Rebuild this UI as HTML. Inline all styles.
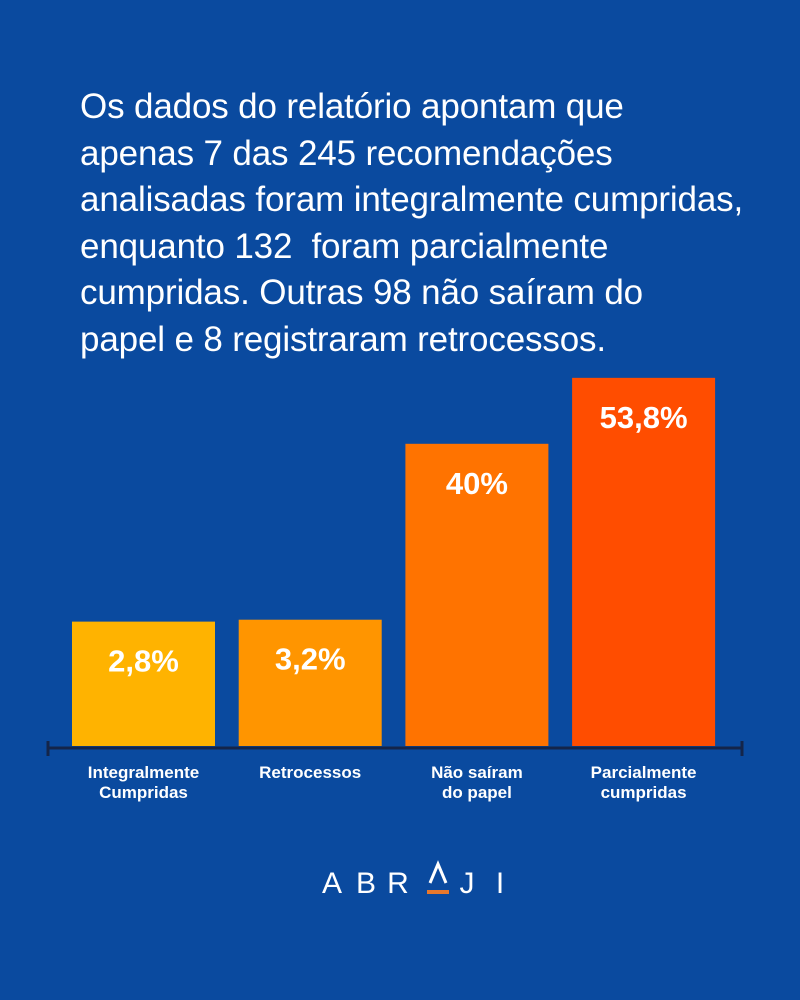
<!DOCTYPE html>
<html><head><meta charset="utf-8"><style>
html,body{margin:0;padding:0}
body{width:800px;height:1000px;background:#0a4a9f;font-family:"Liberation Sans",sans-serif;overflow:hidden;position:relative}
#headline{position:absolute;left:80px;top:84px;width:720px;color:#fff;font-size:35px;line-height:46.5px;letter-spacing:-0.15px;white-space:nowrap}
</style></head><body>
<div id="headline">Os dados do relatório apontam que<br>apenas 7 das 245 recomendações<br>analisadas foram integralmente cumpridas,<br>enquanto 132&nbsp; foram parcialmente<br>cumpridas. Outras 98 não saíram do<br>papel e 8 registraram retrocessos.</div>
<svg id="chart" width="800" height="1000" style="position:absolute;left:0;top:0"></svg>
<script>
const categories=[["Integralmente","Cumpridas"],["Retrocessos"],["Não saíram","do papel"],["Parcialmente","cumpridas"]];
const values=[2.8,3.2,40,53.8];
const valueLabels=["2,8%","3,2%","40%","53,8%"];
const colors=["#ffb300","#ff9500","#ff7300","#ff4d00"];
const svg=document.getElementById('chart');
const NS="http://www.w3.org/2000/svg";
const baseY=746;
function yH(v){return 111+4.78*v;}
function xL(i){return 72+i*166.7;}
const barW=143;
function mk(t,a){const e=document.createElementNS(NS,t);for(const k in a)e.setAttribute(k,a[k]);svg.appendChild(e);return e;}
values.forEach((v,i)=>{
 const h=yH(v),x=xL(i);
 const r=mk('rect',{x:x,y:baseY-h,width:barW,height:h,fill:colors[i]});
 
 
 const t=mk('text',{x:x+barW/2,y:baseY-h+50,'text-anchor':'middle',fill:'#fff','font-size':'31','font-weight':'bold','font-family':'Liberation Sans, sans-serif'});
 t.textContent=valueLabels[i];
 
 
 categories[i].forEach((ln,j)=>{
  const c=mk('text',{x:x+barW/2,y:778+j*20,'text-anchor':'middle',fill:'#fff','font-size':'17','font-weight':'bold','font-family':'Liberation Sans, sans-serif'});
  c.textContent=ln;
  
  
 });
});
const ax=mk('line',{x1:48,y1:748,x2:742,y2:748,stroke:'#14254a','stroke-width':3});


[48,742].forEach(x=>{const tk=mk('line',{x1:x,y1:741,x2:x,y2:756,stroke:'#14254a','stroke-width':3});

});
[["A",332],["B",366],["R",398],["J",467],["I",500]].forEach(([ch,x])=>{
 const l=mk('text',{x:x,y:893,fill:'#fff','font-size':'30','text-anchor':'middle','font-family':'Liberation Sans, sans-serif'});
 l.textContent=ch;
 
 
});
const lam=mk('path',{d:'M430 883 L438 864 L446 883',stroke:'#fff','stroke-width':3,fill:'none'});


const und=mk('rect',{x:427,y:890,width:22,height:4,fill:'#e8782c'});


</script>
</body></html>
